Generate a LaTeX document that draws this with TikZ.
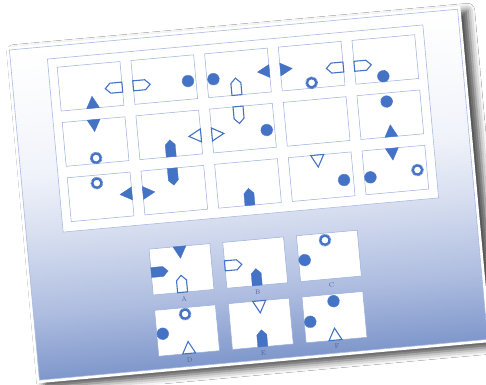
\documentclass[tikz,border=0pt]{standalone}
\usepackage{tikz}
\usetikzlibrary{positioning, calc, shadows.blur}

\definecolor{markblue}{HTML}{4472C4}
\definecolor{panelline}{HTML}{98AEDC}
\definecolor{cardline}{HTML}{A8BBE4}
\definecolor{labelblue}{HTML}{4E629E}
\definecolor{gradbot}{HTML}{7F97CB}
\definecolor{gradlow}{HTML}{AEBDE0}
\definecolor{gradmid}{HTML}{D8DFF0}
\definecolor{gradhigh}{HTML}{F0F3FA}
\definecolor{gradtop}{HTML}{F9FAFD}

\pgfdeclareverticalshading{cardgrad}{100bp}{color(0bp)=(gradbot); color(25bp)=(gradbot);
  color(35bp)=(gradlow); color(47bp)=(gradmid); color(56bp)=(gradhigh);
  color(66bp)=(gradtop); color(75bp)=(white); color(100bp)=(white)}

\begin{document}
\begin{tikzpicture}[x=1pt, y=1pt,
        panel/.style={rectangle, draw=panelline, fill=white, line width=0.5pt, minimum width=63pt, minimum height=44pt, inner sep=0pt, outer sep=0pt},
        answer/.style={panel, minimum width=61pt, minimum height=46pt},
        anslabel/.style={font=\fontsize{6.5}{7}\selectfont, text=labelblue, inner sep=0pt},
        filledmark/.style={fill=markblue, draw=markblue, line width=0.3pt},
        hollowmark/.style={fill=white, draw=markblue, line width=1.1pt},
        pics/house/.style={code={\path[pic actions] (-5,0) -- (5,0) -- (5,12) -- (0,17) -- (-5,12) -- cycle;}},
        pics/wedge/.style={code={\path[pic actions] (-6.5,0) -- (6.5,0) -- (0,12) -- cycle;}},
        pics/dot/.style={code={\fill[markblue] (0,0) circle (5.8);
            \draw[markblue, line width=0.6pt, dash pattern=on 0.6pt off 0.6pt] (0,0) circle (5.9);}},
        pics/ring/.style={code={\draw[markblue, line width=2.2pt] (0,0) circle (4.6);
            \draw[markblue, line width=0.6pt, dash pattern=on 0.6pt off 0.6pt] (0,0) circle (5.9);}}
    ]
    \path[use as bounding box, fill=white] (0,0) rectangle (486,384);

    \begin{scope}[transform canvas={shift={(247.5,189.5)}, rotate=5.2}]
        % --- CARD ---
        \path[fill=white, blur shadow={shadow xshift=7pt, shadow yshift=-5pt, shadow blur radius=7pt, shadow opacity=70}] (-227,-169) rectangle (229,168.5);
        \shadedraw[shading=cardgrad, draw=cardline, line width=0.6pt] (-224,-166) rectangle (226,165.5);
        \draw[draw=cardline, fill=white, line width=0.6pt] (-187,-20.7) rectangle (190,153);

        % --- PUZZLE PANELS ---
        \node[panel] (p11) at (-146.5, 122) {};
        \node[panel] (p12) at (-72.5, 122) {};
        \node[panel] (p13) at (1.5, 122) {};
        \node[panel] (p14) at (75.5, 122) {};
        \node[panel] (p15) at (149.5, 122) {};

        \node[panel] (p21) at (-146.5, 66.5) {};
        \node[panel] (p22) at (-72.5, 66.5) {};
        \node[panel] (p23) at (1.5, 66.5) {};
        \node[panel] (p24) at (75.5, 66.5) {};
        \node[panel] (p25) at (149.5, 66.5) {};

        \node[panel] (p31) at (-146.5, 11) {};
        \node[panel] (p32) at (-72.5, 11) {};
        \node[panel] (p33) at (1.5, 11) {};
        \node[panel] (p34) at (75.5, 11) {};
        \node[panel] (p35) at (149.5, 11) {};

        % --- ANSWER PANELS ---
        \node[answer] (aA) at (-72.5, -68.5) {};
        \node[answer] (aB) at (1.5, -68.5) {};
        \node[answer] (aC) at (75.5, -68.5) {};
        \node[answer] (aD) at (-72.5, -130) {};
        \node[answer] (aE) at (1.5, -130) {};
        \node[answer] (aF) at (75.5, -130) {};

        \node[anslabel, below=4pt of aA] (lA) {A};
        \node[anslabel, below=4pt of aB] (lB) {B};
        \node[anslabel, below=4pt of aC] (lC) {C};
        \node[anslabel, below=4pt of aD] (lD) {D};
        \node[anslabel, below=4pt of aE] (lE) {E};
        \node[anslabel, below=4pt of aF] (lF) {F};

        % --- ROW 1 ---
        \pic[filledmark] at ($(p11.south)+(0.5,0)$) {wedge};
        \pic[hollowmark, rotate=90] at ($(p11.east)+(0,-3.7)$) {house};
        \pic[hollowmark, rotate=-90] at ($(p12.west)+(0,-3.4)$) {house};
        \pic at ($(p12)+(23.5,-3.6)$) {dot};
        \pic at ($(p13)+(-25,-4)$) {dot};
        \pic[hollowmark] at ($(p13.south)+(-3,0)$) {house};
        \pic[filledmark, rotate=90] at ($(p13.east)+(0,-1)$) {wedge};
        \pic[filledmark, rotate=-90] at ($(p14.west)+(0,-0.5)$) {wedge};
        \pic at ($(p14)+(-1.5,-16.5)$) {ring};
        \pic[hollowmark, rotate=90] at ($(p14.east)+(0,-3.7)$) {house};
        \pic[hollowmark, rotate=-90] at ($(p15.west)+(0,-4)$) {house};
        \pic at ($(p15)+(-3.5,-16.5)$) {dot};

        % --- ROW 2 ---
        \pic[filledmark, rotate=180] at (p21.north) {wedge};
        \pic at ($(p21)+(-1,-16.5)$) {ring};
        \pic[filledmark] at (p22.south) {house};
        \pic[hollowmark, rotate=90] at ($(p22.east)+(0,-3.4)$) {wedge};
        \pic[hollowmark, rotate=-90] at ($(p23.west)+(0,-3.5)$) {wedge};
        \pic[hollowmark, rotate=180] at ($(p23.north)+(-3,0)$) {house};
        \pic at ($(p23)+(23.5,-4)$) {dot};
        \pic at ($(p25)+(-2.5,13.5)$) {dot};
        \pic[filledmark] at ($(p25.south)+(-1,0)$) {wedge};

        % --- ROW 3 ---
        \pic at ($(p31)+(-2.5,14)$) {ring};
        \pic[filledmark, rotate=90] at ($(p31.east)+(0,0.5)$) {wedge};
        \pic[filledmark, rotate=-90] at (p32.west) {wedge};
        \pic[filledmark, rotate=180] at (p32.north) {house};
        \pic[filledmark] at (p33.south) {house};
        \pic[hollowmark, rotate=180] at ($(p34.north)+(-2.5,0)$) {wedge};
        \pic at ($(p34)+(22,-5.3)$) {dot};
        \pic[filledmark, rotate=180] at ($(p35.north)+(-1.5,0)$) {wedge};
        \pic at ($(p35)+(-25.5,-5)$) {dot};
        \pic at ($(p35)+(22,-2)$) {ring};

        % --- ANSWERS ---
        \pic[filledmark, rotate=180] at (aA.north) {wedge};
        \pic[filledmark, rotate=-90] at ($(aA.west)+(0,-0.5)$) {house};
        \pic[hollowmark] at ($(aA.south)+(-1,0)$) {house};

        \pic[hollowmark, rotate=-90] at ($(aB.west)+(0,-0.5)$) {house};
        \pic[filledmark] at (aB.south) {house};

        \pic at ($(aC)+(-2.5,16)$) {ring};
        \pic at ($(aC)+(-24.5,-2)$) {dot};

        \pic at ($(aD)+(-0.5,16.5)$) {ring};
        \pic at ($(aD)+(-24.5,-1)$) {dot};
        \pic[hollowmark] at (aD.south) {wedge};

        \pic[hollowmark, rotate=180] at ($(aE.north)+(0.5,0)$) {wedge};
        \pic[filledmark] at (aE.south) {house};

        \pic at ($(aF)+(0.5,16)$) {dot};
        \pic at ($(aF)+(-24.5,-2.5)$) {dot};
        \pic[hollowmark] at ($(aF.south)+(-1,0)$) {wedge};
    \end{scope}
\end{tikzpicture}
\end{document}
